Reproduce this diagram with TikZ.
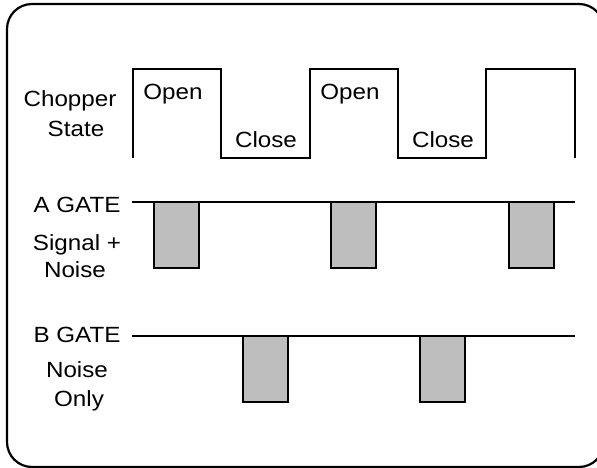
\documentclass[tikz,border=0pt]{standalone}
\usepackage{fontspec}
\setmainfont{Liberation Sans}
\usepackage{xcolor}
\usepackage{tikz}
\definecolor{ink}{HTML}{000000}
\definecolor{gatefill}{HTML}{BEBEBE}
\tikzset{
  Frame/.style={draw=ink, line width=2.2pt, rounded corners=25pt},
  Wave/.style={draw=ink, line width=1.9pt},
  GatePulse/.style={draw=ink, fill=gatefill, line width=1.9pt},
  Lbl/.style={
    font=\fontsize{22}{28}\selectfont,
    text=ink, xscale=1.1,
    inner sep=0pt, anchor=base
  }
}
\newcommand{\Pulse}[2]{%
  % #1 = left edge of the pulse, #2 = y of the gate line
  \draw[GatePulse] (#1,#2) rectangle ++(45,66);
}

\begin{document}
\begin{tikzpicture}[x=1pt, y=-1pt, line join=miter]
  \useasboundingbox (0,0) rectangle (597,468);
  \clip (0,0) rectangle (597,468);

  % outer frame (runs off the right edge)
  \draw[Frame] (604,80) -- (604,4) -- (7,4) -- (7,467) -- (604,467) -- (604,390);

  % chopper state
  \node[Lbl] (chop) at (70,107) {Chopper};
  \node[Lbl] (state) at (76,137) {State};
  \draw[Wave] (133,158) -- (133,69) -- (221,69) -- (221,158)
    -- (310,158) -- (310,69) -- (398,69) -- (398,158)
    -- (486,158) -- (486,69) -- (575,69) -- (575,158);
  \node[Lbl] (open1) at (173,100) {Open};
  \node[Lbl] (close1) at (266,147) {Close};
  \node[Lbl] (open2) at (350,100) {Open};
  \node[Lbl] (close2) at (443,147) {Close};

  % A gate
  \node[Lbl] (agate) at (77,212) {A GATE};
  \node[Lbl] (asig) at (77,250) {Signal +};
  \node[Lbl] (anoise) at (75,277) {Noise};
  \draw[Wave] (132,202) -- (575,202);
  \foreach \x in {154,331,509} {\Pulse{\x}{202}}

  % B gate
  \node[Lbl] (bgate) at (77,342) {B GATE};
  \node[Lbl] (bnoise) at (77,377) {Noise};
  \node[Lbl] (bonly) at (79,406) {Only};
  \draw[Wave] (132,336) -- (575,336);
  \foreach \x in {243,420} {\Pulse{\x}{336}}
\end{tikzpicture}
\end{document}
